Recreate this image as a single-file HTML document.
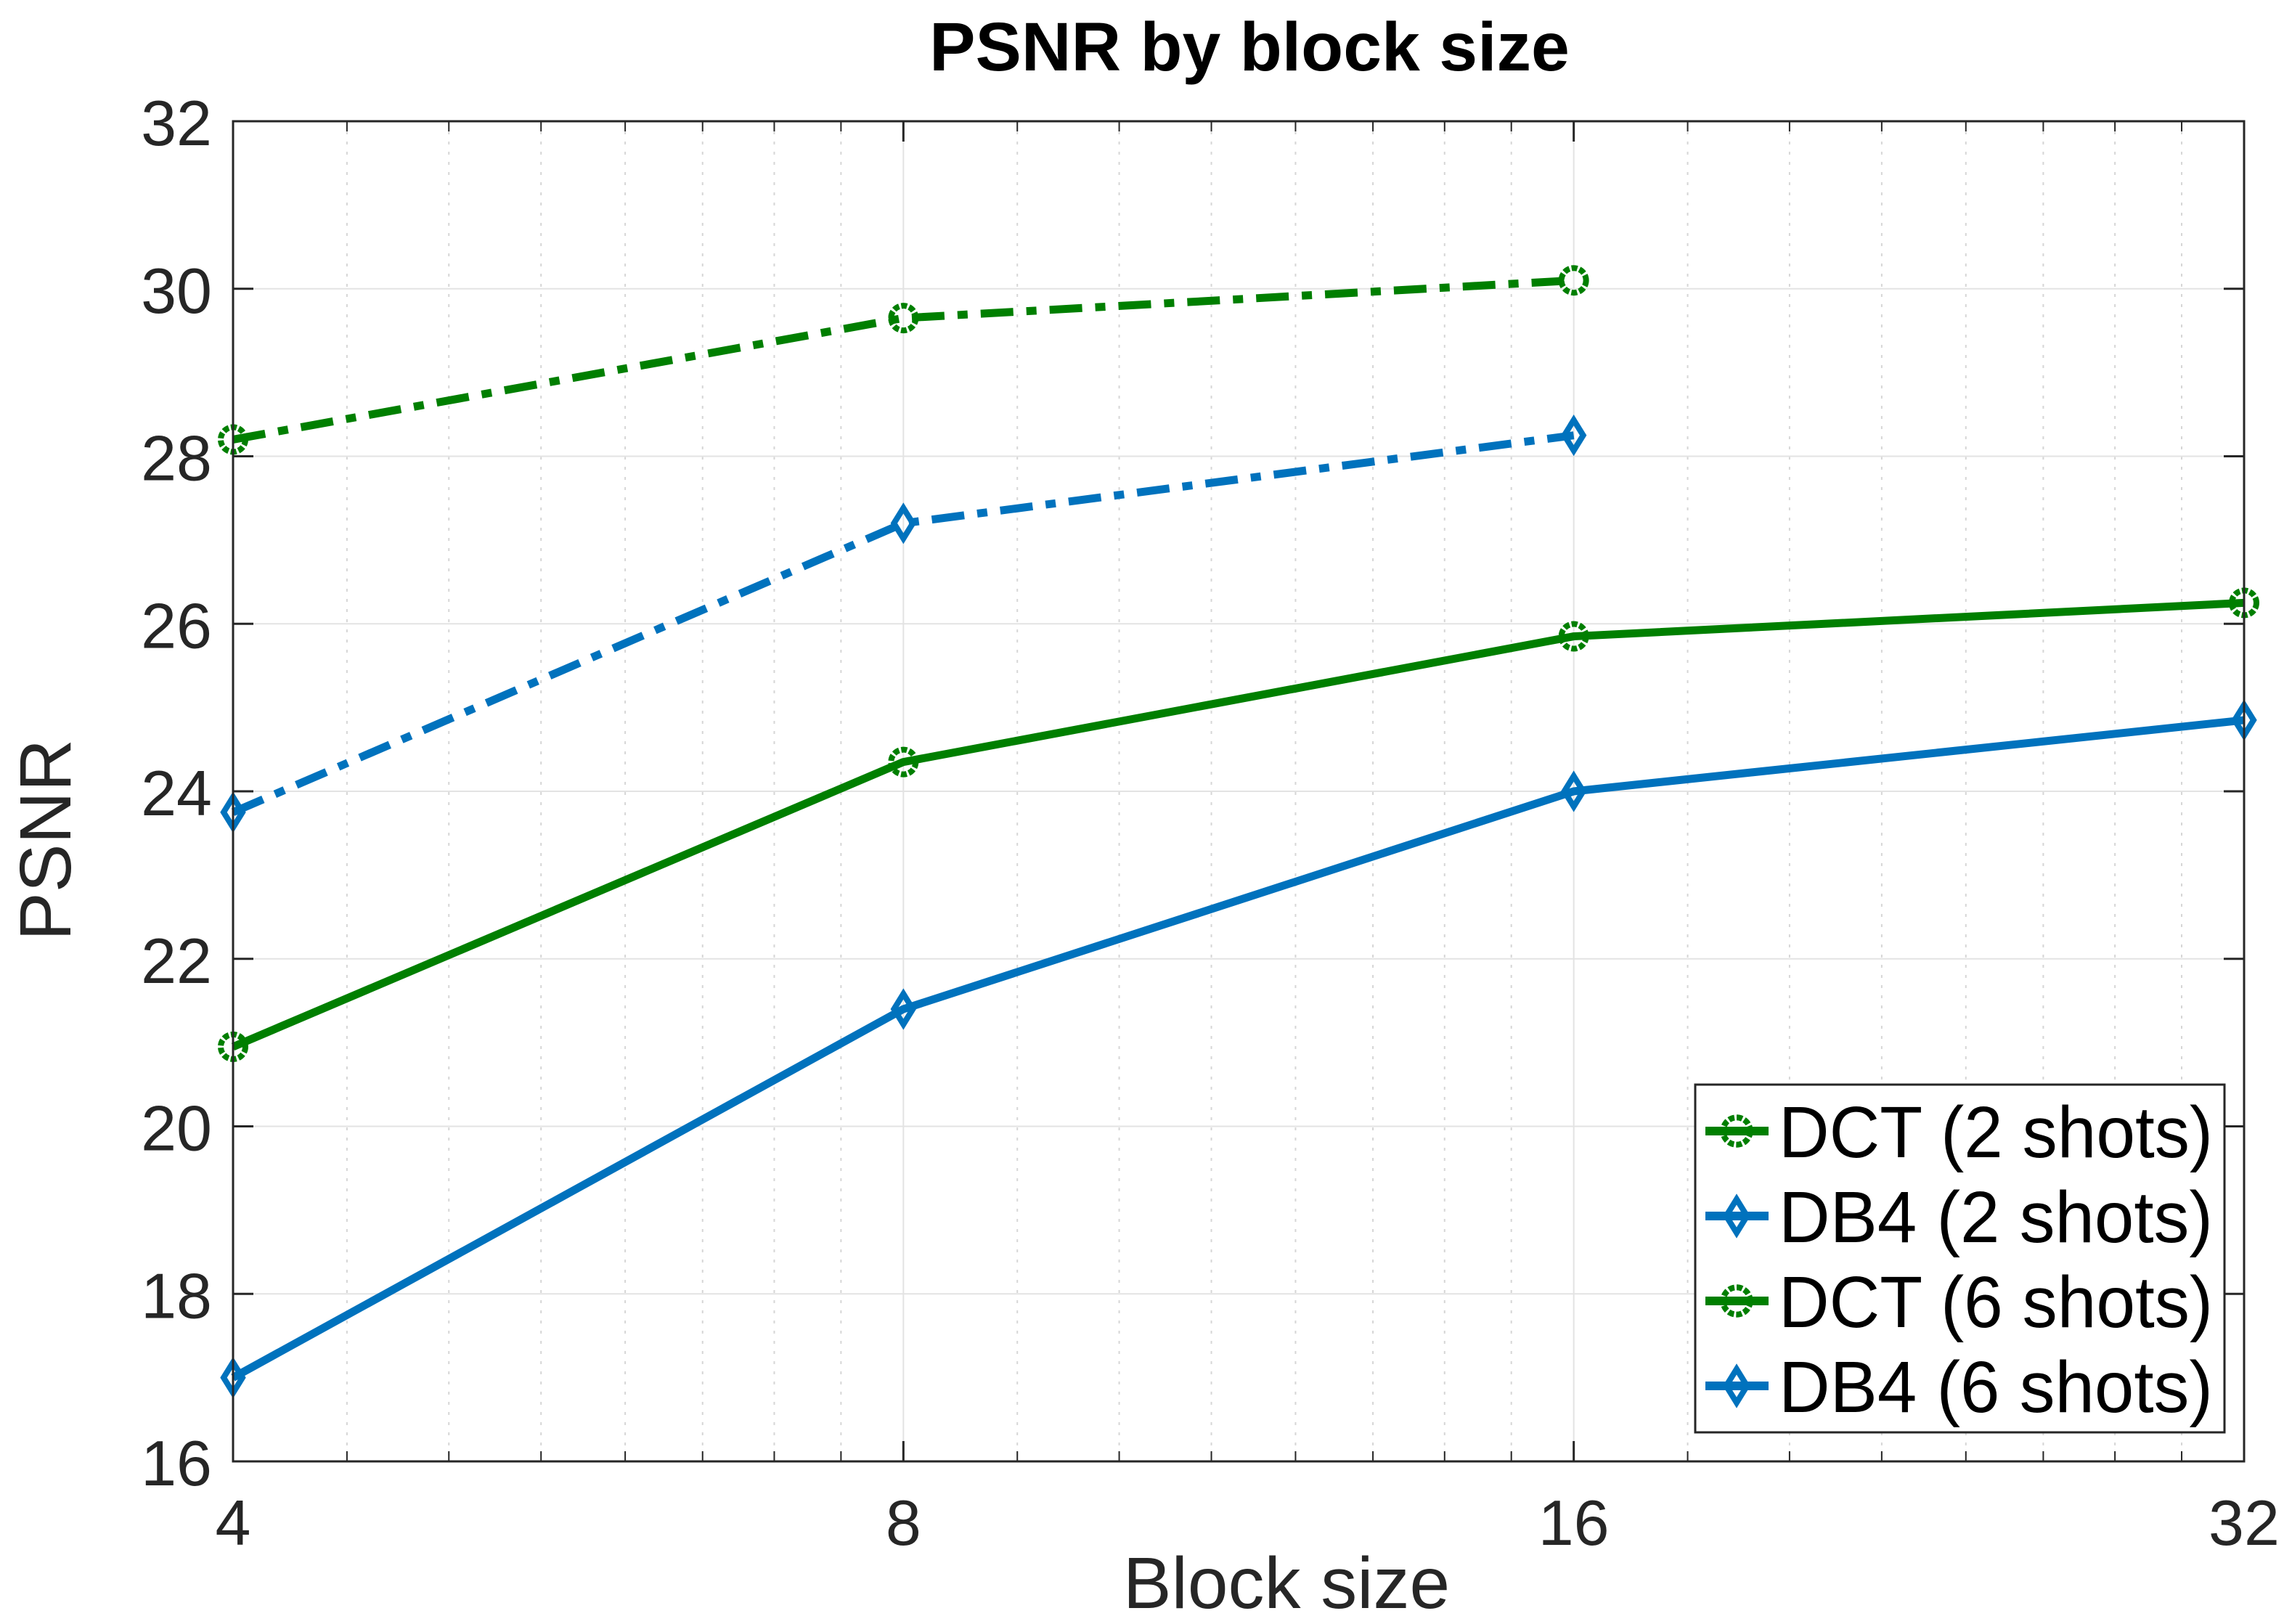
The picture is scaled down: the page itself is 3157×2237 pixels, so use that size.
<!DOCTYPE html>
<html><head><meta charset="utf-8"><style>
body{margin:0;background:#fff}
svg{display:block;font-family:"Liberation Sans",Arial,sans-serif}
</style></head><body>
<svg id="chart" width="3157" height="2237" viewBox="0 0 3157 2237" xmlns="http://www.w3.org/2000/svg">
<rect width="3157" height="2237" fill="#fff"/>
<g id="grid"></g>
<g id="series"></g>
<rect x="321" y="167" width="2770" height="1846" fill="none" stroke="#262626" stroke-width="3"/>
<g id="ticks"></g>
<text x="1721" y="97" font-size="95" font-weight="bold" text-anchor="middle" fill="#000">PSNR by block size</text>
<text x="1772" y="2215" font-size="100" text-anchor="middle" fill="#262626">Block size</text>
<text transform="translate(97,1157) rotate(-90)" font-size="100" text-anchor="middle" fill="#262626">PSNR</text>
<g id="legend"></g>
</svg>
<script>
const categories = [4, 8, 16, 32];
const dct2 = [20.95, 24.35, 25.85, 26.25];
const db42 = [17.0, 21.4, 24.0, 24.85];
const dct6 = [28.2, 29.65, 30.1];
const db46 = [23.75, 27.2, 28.25];
const yTicks = [16, 18, 20, 22, 24, 26, 28, 30, 32];
const xTicks = [4, 8, 16, 32];
const xMinor = [4.5,5,5.5,6,6.5,7,7.5,9,10,11,12,13,14,15,18,20,22,24,26,28,30];
const labels = ["DCT (2 shots)","DB4 (2 shots)","DCT (6 shots)","DB4 (6 shots)"];

const L=321,R=3091,T=167,B=2013;
const xs=v=>L+(R-L)*Math.log2(v/4)/3;
const ys=v=>B-(B-T)*(v-16)/16;
const NS="http://www.w3.org/2000/svg";
function mk(tag,attrs,parent){const e=document.createElementNS(NS,tag);for(const k in attrs)e.setAttribute(k,attrs[k]);parent.appendChild(e);return e;}
const grid=document.getElementById('grid'),ticks=document.getElementById('ticks'),ser=document.getElementById('series'),leg=document.getElementById('legend');

xMinor.forEach(v=>{const x=xs(v);
 const g=mk('line',{x1:x,x2:x,y1:T,y2:B,stroke:'#d6d6d6','stroke-width':2,'stroke-dasharray':'4,10'},grid);
 
 mk('line',{x1:x,x2:x,y1:B,y2:B-14,stroke:'#262626','stroke-width':2},ticks);
 mk('line',{x1:x,x2:x,y1:T,y2:T+14,stroke:'#262626','stroke-width':2},ticks);});
xTicks.forEach(v=>{const x=xs(v);
 const g=mk('line',{x1:x,x2:x,y1:T,y2:B,stroke:'#e3e3e3','stroke-width':2},grid);
 
 mk('line',{x1:x,x2:x,y1:B,y2:B-28,stroke:'#262626','stroke-width':3},ticks);
 mk('line',{x1:x,x2:x,y1:T,y2:T+28,stroke:'#262626','stroke-width':3},ticks);
 const t=mk('text',{x:x,y:2128,'font-size':88,'text-anchor':'middle',fill:'#262626'},ticks);t.textContent=v;
 });
yTicks.forEach(v=>{const y=ys(v);
 const g=mk('line',{x1:L,x2:R,y1:y,y2:y,stroke:'#e3e3e3','stroke-width':2},grid);
 
 mk('line',{x1:L,x2:L+28,y1:y,y2:y,stroke:'#262626','stroke-width':3},ticks);
 mk('line',{x1:R,x2:R-28,y1:y,y2:y,stroke:'#262626','stroke-width':3},ticks);
 const t=mk('text',{x:292,y:y+33,'font-size':88,'text-anchor':'end',fill:'#262626'},ticks);t.textContent=v;
 });

const GREEN='#007f00',BLUE='#0072bd';
function marker(kind,x,y,color,parent,s){
 if(kind==='o'){return mk('circle',{cx:x,cy:y,r:17*s,fill:'none',stroke:color,'stroke-width':8,'stroke-dasharray':'8,3'},parent);}
 return mk('path',{d:`M${x} ${y-21*s}L${x+13*s} ${y}L${x} ${y+21*s}L${x-13*s} ${y}Z`,fill:'none',stroke:color,'stroke-width':8},parent);
}
const series=[[dct2,GREEN,'o',null,'series-dct-2-shots'],[db42,BLUE,'d',null,'series-db4-2-shots'],[dct6,GREEN,'o','45,18,14,18','series-dct-6-shots'],[db46,BLUE,'d','45,18,14,18','series-db4-6-shots']];
series.forEach(([vals,color,m,dash,name])=>{
 const g=mk('g',{},ser);
 const pts=vals.map((v,i)=>xs(categories[i])+','+ys(v)).join(' ');
 const a={points:pts,fill:'none',stroke:color,'stroke-width':11,'stroke-linejoin':'round'};if(dash)a['stroke-dasharray']=dash;
 const pl=mk('polyline',a,g);
 vals.forEach((v,i)=>{const mm=marker(m,xs(categories[i]),ys(v),color,g,1);
  });
});

const lb=mk('rect',{x:2335,y:1494,width:729,height:479,fill:'#fff',stroke:'#262626','stroke-width':3},leg);

labels.forEach((lab,i)=>{const y=1558+i*117;const [,color,m]=series[i];
 const g=mk('g',{},leg);
 mk('line',{x1:2349,x2:2436,y1:y,y2:y,stroke:color,'stroke-width':12},g);
 marker(m,2392,y,color,g,1.1);
 const t=mk('text',{x:2450,y:y+36,'font-size':100,fill:'#000',textLength:598,lengthAdjust:'spacingAndGlyphs'},g);t.textContent=lab;});
</script>
</body></html>
